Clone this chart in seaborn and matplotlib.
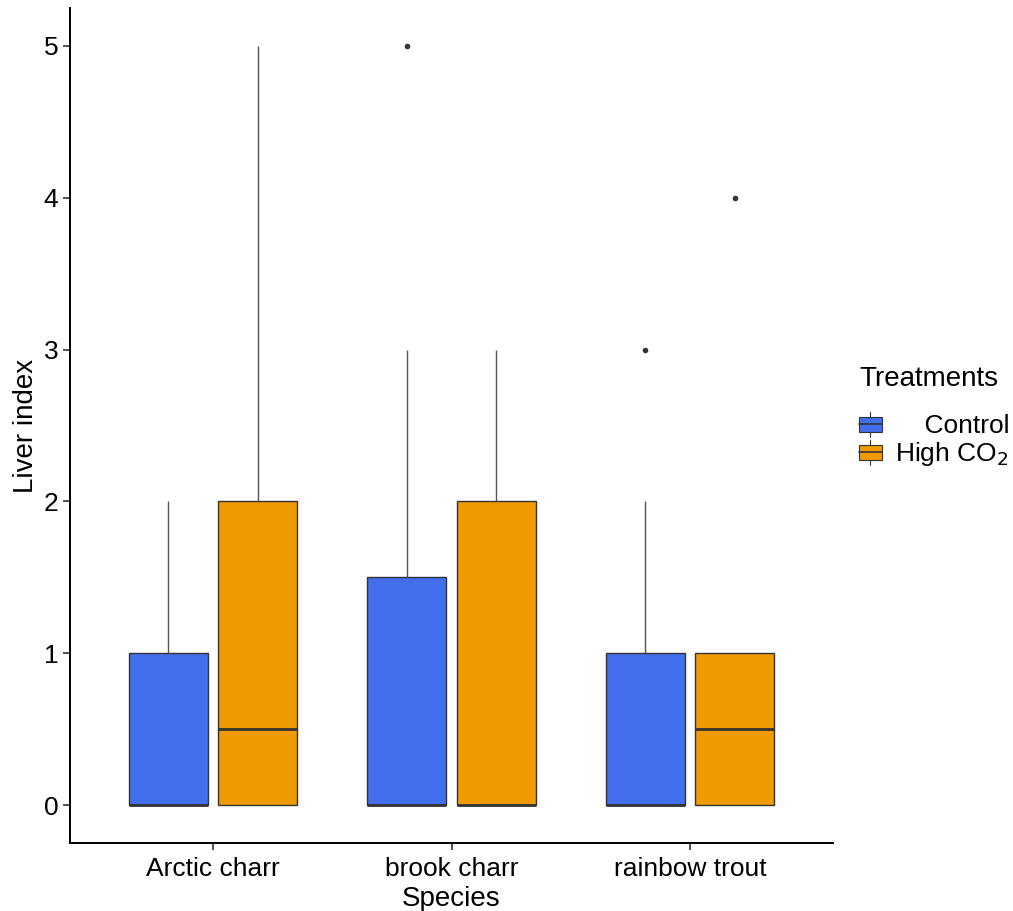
import pandas as pd
import matplotlib.pyplot as plt
import matplotlib.patches as mpatches
import matplotlib.lines as mlines
from matplotlib.legend_handler import HandlerBase
import seaborn as sns

# Liver index scores per fish, by species and treatment
species = ["Arctic charr", "brook charr", "rainbow trout"]
treatments = ["Control", "High CO2"]

arctic_control = [0, 0, 0, 0, 0, 0, 1, 1, 2]
arctic_high = [0, 0, 0, 0, 0, 1, 2, 2, 2, 5]
brook_control = [0, 0, 0, 0, 0, 0, 0, 1, 2, 3, 5]
brook_high = [0, 0, 0, 0, 0, 1, 2, 2, 3]
rainbow_control = [0, 0, 0, 0, 0, 1, 1, 2, 3]
rainbow_high = [0, 0, 0, 0, 0, 1, 1, 1, 1, 4]

colors = {"Control": "#436EEE", "High CO2": "#EE9A00"}

groups = [
    ("Arctic charr", "Control", arctic_control),
    ("Arctic charr", "High CO2", arctic_high),
    ("brook charr", "Control", brook_control),
    ("brook charr", "High CO2", brook_high),
    ("rainbow trout", "Control", rainbow_control),
    ("rainbow trout", "High CO2", rainbow_high),
]
rows = []
for sp, tr, vals in groups:
    for v in vals:
        rows.append({"Species": sp, "Treatments": tr, "Liver index": v})
df = pd.DataFrame(rows)


# little boxplot glyph for the legend keys, like ggplot draws them
class BoxKey(HandlerBase):
    def create_artists(self, legend, orig_handle, xdescent, ydescent,
                       width, height, fontsize, trans):
        fc = orig_handle.get_facecolor()
        cx = width / 2 - xdescent
        box = mpatches.Rectangle((-xdescent, -ydescent + height * 0.2),
                                 width, height * 0.6, facecolor=fc,
                                 edgecolor="#333333", linewidth=0.8,
                                 transform=trans)
        whisk = mlines.Line2D([cx, cx], [-ydescent, -ydescent + height],
                              color="#333333", linewidth=0.8, transform=trans)
        med = mlines.Line2D([-xdescent, -xdescent + width],
                            [-ydescent + height / 2] * 2,
                            color="#333333", linewidth=1.2, transform=trans)
        return [whisk, box, med]


sns.set_style("white")
plt.rcParams['font.family'] = ['Liberation Sans', 'DejaVu Sans']
plt.rcParams['text.color'] = 'black'
plt.rcParams['axes.labelcolor'] = 'black'
plt.rcParams['xtick.color'] = 'black'
plt.rcParams['ytick.color'] = 'black'

fig = plt.figure(figsize=(10.13, 9.11), dpi=100)
ax = fig.add_axes([70 / 1013, 68 / 911, 763 / 1013, 835 / 911])

sns.boxplot(data=df, x="Species", y="Liver index", hue="Treatments",
            order=species, hue_order=treatments, palette=colors,
            width=0.75, gap=0.12, saturation=1, ax=ax,
            linecolor="#333333", linewidth=1.0,
            whiskerprops={"color": "#555555", "linewidth": 1.0},
            capprops={"linewidth": 0},
            medianprops={"color": "#333333", "linewidth": 2.0},
            flierprops={"marker": "o", "markersize": 3,
                        "markerfacecolor": "#333333",
                        "markeredgecolor": "#333333"})

ax.set_xlim(-0.6, 2.6)
ax.set_ylim(-0.25, 5.25)
ax.set_yticks([0, 1, 2, 3, 4, 5])
ax.set_xlabel("Species", fontsize=20, labelpad=4)
ax.set_ylabel("Liver index", fontsize=20, labelpad=3)
ax.tick_params(axis="both", labelsize=19, length=5, width=1.2,
               color="#333333", direction="out", bottom=True, left=True)
ax.tick_params(axis="x", pad=5)
for side in ["top", "right"]:
    ax.spines[side].set_visible(False)
for side in ["left", "bottom"]:
    ax.spines[side].set_color("black")
    ax.spines[side].set_linewidth(1.4)

handles, _ = ax.get_legend_handles_labels()
leg = ax.legend(handles, ["    Control", "High CO$_2$"], title="Treatments",
                loc="center left", bbox_to_anchor=(1.01, 0.51), frameon=False,
                fontsize=19, title_fontsize=20, handlelength=0.85,
                handleheight=1.1, handletextpad=0.5, labelspacing=0.05,
                alignment="left", borderaxespad=0.3,
                handler_map={mpatches.Patch: BoxKey(),
                             mpatches.Rectangle: BoxKey()})
leg._legend_box.sep = 14

fig.savefig("out.png", dpi=100)
